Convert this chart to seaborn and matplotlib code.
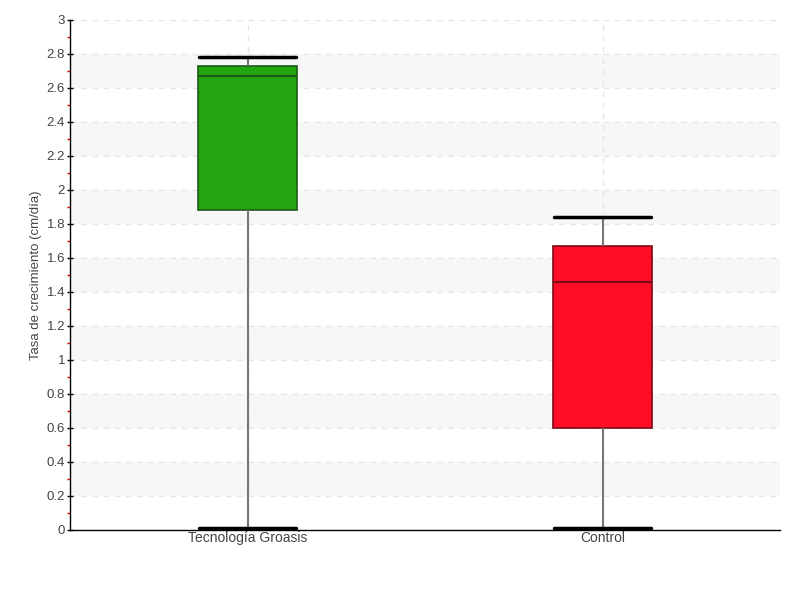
import numpy as np
import pandas as pd
import matplotlib.pyplot as plt
import seaborn as sns
from matplotlib.ticker import MultipleLocator

# --- DATI (min, Q1, mediana, Q3, max) ---
categorie = ["Tecnología Groasis", "Control"]
groasis = [0.01, 1.88, 2.67, 2.73, 2.78]
control = [0.01, 0.60, 1.46, 1.67, 1.84]
colori = ["#22a50e", "#ff0d27"]
bordi = ["#1c5a16", "#7a0a16"]
y_ticks = [round(v * 0.2, 1) for v in range(16)]
y_label = "Tasa de crecimiento (cm/día)"

df = pd.DataFrame({
    "grupo": [categorie[0]] * len(groasis) + [categorie[1]] * len(control),
    "tasa": groasis + control,
})

sns.set_theme(style="white")
plt.rcParams["font.family"] = ["Liberation Sans", "DejaVu Sans"]

fig = plt.figure(figsize=(8, 6), dpi=100)
ax = fig.add_axes([0.0875, 0.1167, 0.8875, 0.85])

BOX_W = 0.28
sns.boxplot(
    data=df, x="grupo", y="tasa", hue="grupo", palette=colori, legend=False,
    whis=(0, 100), width=BOX_W, saturation=1, ax=ax, zorder=3,
    whiskerprops=dict(color="#777777", lw=1.5),
    capprops=dict(color="black", lw=2.5),
    showfliers=False,
)

# bordi e mediane scuri per ogni box, caps larghi quanto il box
box_patches = list(ax.patches)
for patch, b in zip(box_patches, bordi):
    patch.set_edgecolor(b)
    patch.set_linewidth(1.2)
lines = ax.lines
per_box = len(lines) // 2
for k, b in enumerate(bordi):
    for j in (2, 3):
        cap = lines[k * per_box + j]
        cap.set_xdata([k - BOX_W / 2 * 0.98, k + BOX_W / 2 * 0.98])
    med = lines[k * per_box + 4]
    med.set_color(b)
    med.set_linewidth(1.5)

# bande alternate di sfondo
for i in range(1, len(y_ticks) - 1, 2):
    ax.axhspan(y_ticks[i], y_ticks[i + 1], color="#f7f7f7", zorder=0, lw=0)

ax.set_ylim(0, 3)
ax.set_xlim(-0.5, 1.5)
ax.set_yticks(y_ticks)
ax.set_yticklabels([f"{v:g}" for v in y_ticks])
ax.yaxis.set_minor_locator(MultipleLocator(0.1))
ax.tick_params(axis="y", which="major", left=True, direction="inout", length=5, width=1,
               color="black", labelsize=9.5, labelcolor="#444444", pad=1)
ax.tick_params(axis="y", which="minor", left=True, length=2.5, width=1, color="#dd0000")
ax.tick_params(axis="x", bottom=False, length=0, labelsize=10, labelcolor="#444444", pad=1)

ax.grid(axis="y", ls=(0, (4, 4)), color="#e6e6e6", lw=1, zorder=1)
ax.grid(axis="x", ls=(0, (4, 4)), color="#e6e6e6", lw=1, zorder=1)
ax.set_axisbelow(True)

for s in ["top", "right"]:
    ax.spines[s].set_visible(False)
for s in ["left", "bottom"]:
    ax.spines[s].set_color("black")
    ax.spines[s].set_linewidth(1)

ax.set_xlabel("")
ax.set_ylabel(y_label, fontsize=9.5, color="#444444", labelpad=3)

fig.savefig("out.png", dpi=100)
